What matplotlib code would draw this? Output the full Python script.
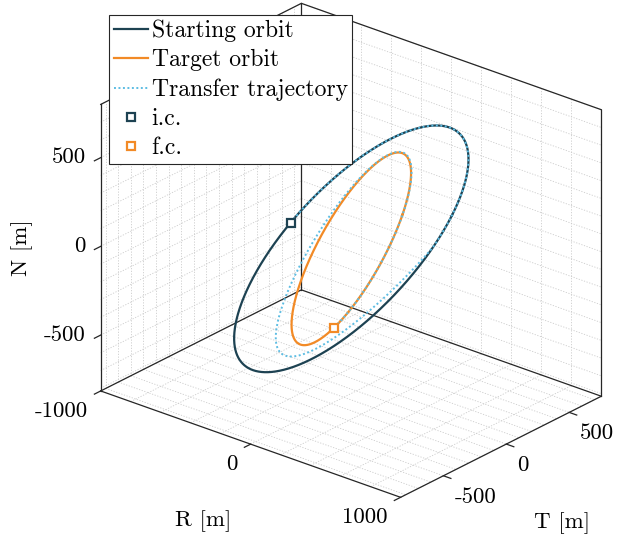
import numpy as np
import matplotlib
matplotlib.use("Agg")
import matplotlib.pyplot as plt
from matplotlib.lines import Line2D
from mpl_toolkits.mplot3d import proj3d

plt.rcParams['font.family'] = ['cmr10', 'DejaVu Serif']
plt.rcParams['mathtext.fontset'] = 'cm'
plt.rcParams['axes.unicode_minus'] = False

# ---------------- data ----------------
series_labels = ["Starting orbit", "Target orbit", "Transfer trajectory", "i.c.", "f.c."]
# relative-orbit amplitudes [m]: R = aR sin(th), T = T0 + aT cos(th), N = aN sin(th + phN)
start_amp = [400, 800, 795]
start_phase_N = -7            # deg
target_amp = [204, 408, 570]
target_phase_N = 5            # deg
orbit_center_T = -40          # m, along-track offset of both orbit centres
ic_anomaly = 152.0            # deg, initial condition on starting orbit
fc_anomaly = -436.4           # deg, final condition on target orbit
transfer_blend_start = -15.0  # deg, where transfer departs the starting orbit
transfer_blend_power = 3.5

R_lim = [-1000, 1000]
T_lim = [-840, 755]
N_lim = [-815, 800]
R_ticks = [-1000, 0, 1000]
T_ticks = [-500, 0, 500]
N_ticks = [-500, 0, 500]
R_tick_labels = ["-1000", "0", "1000"]
T_tick_labels = ["-500", "0", "500"]
N_tick_labels = ["-500", "0", "500"]
R_minor_step, T_minor_step, N_minor_step = 200, 100, 100

c_start = '#1D4252'
c_target = '#F28A26'
c_transfer = '#5DBDE3'
c_axis = '#262626'
c_grid = '#CCCCCC'

W, H = 617, 538


def orbit(amp, phN, th_deg):
    th = np.radians(th_deg)
    return (amp[0] * np.sin(th), orbit_center_T + amp[1] * np.cos(th),
            amp[2] * np.sin(th + np.radians(phN)))


th_full = np.linspace(0, 360, 1441)
sR, sT, sN = orbit(start_amp, start_phase_N, th_full)
tR, tT, tN = orbit(target_amp, target_phase_N, th_full)

th_tr = np.linspace(ic_anomaly, fc_anomaly, 2400)
frac = np.clip((transfer_blend_start - th_tr) / (transfer_blend_start - fc_anomaly), 0, 1)
w = 1 - (1 - frac) ** transfer_blend_power
a = np.array(orbit(start_amp, start_phase_N, th_tr))
b = np.array(orbit(target_amp, target_phase_N, th_tr))
trR, trT, trN = (1 - w) * a + w * b

icR, icT, icN = orbit(start_amp, start_phase_N, np.array([ic_anomaly]))
fcR, fcT, fcN = orbit(target_amp, target_phase_N, np.array([fc_anomaly]))

# ---------------- figure ----------------
fig = plt.figure(figsize=(W / 100, H / 100), dpi=100)
ax = fig.add_axes([0, 0, 1, 1], projection='3d', proj_type='ortho', computed_zorder=False)
ax.view_init(elev=25, azim=-50)
ax.set_xlim(*R_lim)
ax.set_ylim(*T_lim)
ax.set_zlim(*N_lim)
ax.set_box_aspect((R_lim[1] - R_lim[0], T_lim[1] - T_lim[0], N_lim[1] - N_lim[0]))
ax.set_axis_off()

Rmin, Rmax = R_lim
Tmin, Tmax = T_lim
Nmin, Nmax = N_lim

# grid on the back planes
gk = dict(color=c_grid, lw=0.6, ls=(0, (1.5, 1.8)), zorder=1)
R_minor = np.arange(-1000, 1001, R_minor_step)
T_minor = np.arange(-800, Tmax + 1, T_minor_step)
N_minor = np.arange(-800, Nmax + 1, N_minor_step)
for r in R_minor:
    ax.plot([r, r], [Tmin, Tmax], [Nmin, Nmin], **gk)
    ax.plot([r, r], [Tmax, Tmax], [Nmin, Nmax], **gk)
for tv in T_minor:
    ax.plot([Rmin, Rmax], [tv, tv], [Nmin, Nmin], **gk)
    ax.plot([Rmin, Rmin], [tv, tv], [Nmin, Nmax], **gk)
for nv in N_minor:
    ax.plot([Rmin, Rmin], [Tmin, Tmax], [nv, nv], **gk)
    ax.plot([Rmin, Rmax], [Tmax, Tmax], [nv, nv], **gk)

# box (back style) and axes
bk = dict(color=c_axis, lw=0.9, zorder=2)
ax.plot([Rmin, Rmin], [Tmin, Tmin], [Nmin, Nmax], **bk)
ax.plot([Rmax, Rmax], [Tmax, Tmax], [Nmin, Nmax], **bk)
ax.plot([Rmin, Rmin], [Tmax, Tmax], [Nmin, Nmax], **bk)
ax.plot([Rmin, Rmin, Rmax], [Tmin, Tmax, Tmax], [Nmax, Nmax, Nmax], **bk)
ax.plot([Rmin, Rmin, Rmax], [Tmin, Tmax, Tmax], [Nmin, Nmin, Nmin], **bk)
ax.plot([Rmin, Rmax, Rmax], [Tmin, Tmin, Tmax], [Nmin, Nmin, Nmin], **bk)

L = 50
for r in R_ticks:
    ax.plot([r, r], [Tmin, Tmin - L], [Nmin, Nmin], **bk)
for tv in T_ticks:
    ax.plot([Rmax, Rmax + L], [tv, tv], [Nmin, Nmin], **bk)
for nv in N_ticks:
    ax.plot([Rmin, Rmin], [Tmin, Tmin - L], [nv, nv], **bk)

# data
ax.plot(sR, sT, sN, color=c_start, lw=1.6, zorder=3)
ax.plot(tR, tT, tN, color=c_target, lw=1.6, zorder=4)
ax.plot(trR, trT, trN, color=c_transfer, lw=1.4, ls=(0, (1, 1.3)), zorder=5)
mk = dict(ls='none', marker='s', markersize=5.5, markeredgewidth=1.6, markerfacecolor='white', zorder=6)
ax.plot(icR, icT, icN, markeredgecolor=c_start, **mk)
ax.plot(fcR, fcT, fcN, markeredgecolor=c_target, **mk)


def to_display(pts):
    pts = np.asarray(pts, float)
    xs, ys, _ = proj3d.proj_transform(pts[:, 0], pts[:, 1], pts[:, 2], ax.get_proj())
    return ax.transData.transform(np.column_stack([xs, ys]))


# fit the box into the target pixel frame
corners = [(Rmin, Tmin, Nmin), (Rmax, Tmin, Nmin), (Rmax, Tmax, Nmin),
           (Rmin, Tmax, Nmax), (Rmin, Tmin, Nmax), (Rmax, Tmax, Nmax)]
targets_img = np.array([(100, 391), (399, 496), (603, 395), (301, 6), (100, 103), (603, 111)], float)
targets = np.column_stack([targets_img[:, 0], H - targets_img[:, 1]])

fig.canvas.draw()
pos = ax.get_position()
x0, y0 = pos.x0 * W, pos.y0 * H
S = pos.width * W
u = (to_display(corners) - [x0, y0]) / S
A = []
bvec = []
for (ux, uy), (tx, ty) in zip(u, targets):
    A.append([ux, 1, 0]); bvec.append(tx)
    A.append([uy, 0, 1]); bvec.append(ty)
sol = np.linalg.lstsq(np.array(A), np.array(bvec), rcond=None)[0]
S2, ox, oy = sol
ax.set_position([ox / W, oy / H, S2 / W, S2 / H])
fig.canvas.draw()

fs = 16.5


def put(pt3, s, dx, dy_img, **kw):
    d = to_display([pt3])[0]
    fig.text((d[0] + dx) / W, (d[1] - dy_img) / H, s, fontsize=fs, **kw)


for r, s in zip(R_ticks, R_tick_labels):
    put((r, Tmin, Nmin), s, -13, 20, ha='right', va='center')
for tv, s in zip(T_ticks, T_tick_labels):
    put((Rmax, tv, Nmin), s, 11, 21, ha='left', va='center')
for nv, s in zip(N_ticks, N_tick_labels):
    put((Rmin, Tmin, nv), s, -15, 0, ha='right', va='center')

put((0, Tmin, Nmin), "R [m]", -47, 77, ha='center', va='center')
put((Rmax, (Tmin + Tmax) / 2, Nmin), "T [m]", 61, 76, ha='center', va='center')
put((Rmin, Tmin, (Nmin + Nmax) / 2), "N [m]", -79, 0, ha='center', va='center', rotation=90)

handles = [
    Line2D([], [], color=c_start, lw=1.6),
    Line2D([], [], color=c_target, lw=1.6),
    Line2D([], [], color=c_transfer, lw=1.4, ls=(0, (1, 1.3))),
    Line2D([], [], markeredgecolor=c_start, **mk),
    Line2D([], [], markeredgecolor=c_target, **mk),
]
leg = fig.legend(handles, series_labels, loc='upper left',
                 bbox_to_anchor=(109 / W, 1 - 15 / H), bbox_transform=fig.transFigure,
                 frameon=True, fancybox=False, edgecolor=c_axis, framealpha=1,
                 handlelength=1.45, handletextpad=0.15, borderpad=0.2,
                 labelspacing=0.3, borderaxespad=0, fontsize=17)
leg.get_frame().set_linewidth(0.8)

fig.savefig("out.png", dpi=100)
